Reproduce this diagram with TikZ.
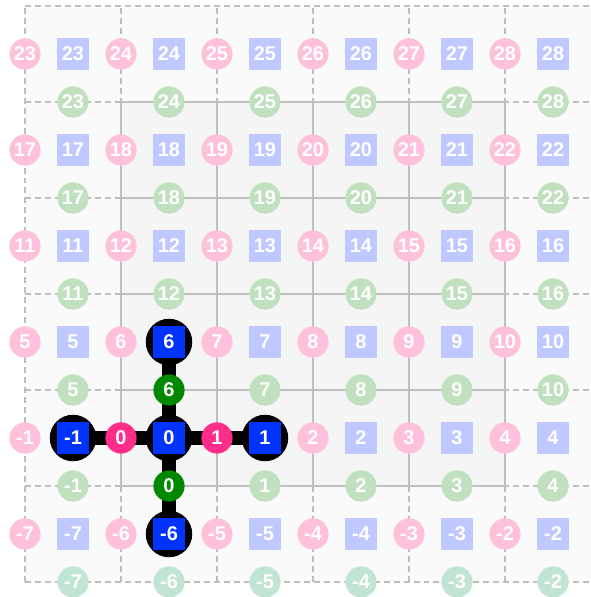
\documentclass[tikz,border=0pt]{standalone}
\usepackage{fontspec}
\setmainfont{Liberation Sans}

\definecolor{upink}{RGB}{255,45,138}
\definecolor{cblue}{RGB}{0,51,255}
\definecolor{vgreen}{RGB}{0,136,0}
\definecolor{upinkfade}{RGB}{255,192,220}
\definecolor{cbluefade}{RGB}{192,201,255}
\definecolor{vgreenfade}{RGB}{192,224,192}
\definecolor{vtealfade}{RGB}{194,228,210}
\definecolor{gridgray}{RGB}{190,190,190}

\begin{document}
\begin{tikzpicture}[
    x=1in, y=1in,
    gridline/.style={draw=gridgray, line width=1pt},
    lbl/.style={text=white, inner sep=0pt, font=\bfseries\fontsize{15pt}{16pt}\selectfont},
    upt/.style={lbl, circle, fill=upinkfade, minimum size=23.5pt},
    vpt/.style={lbl, circle, fill=vgreenfade, minimum size=23.5pt},
    cpt/.style={lbl, rectangle, fill=cbluefade, minimum size=23.8pt},
    halo/.style={circle, fill=black, minimum size=35pt, inner sep=0pt},
    stencil/.style={line width=10pt, black},
    % bottom row of v points
    vrow-1/.style={fill=vtealfade},
    % stencil of cell 0
    hc0/.style={fill=cblue}, hc-1/.style={fill=cblue}, hc1/.style={fill=cblue},
    hc6/.style={fill=cblue}, hc-6/.style={fill=cblue},
    hu0/.style={fill=upink}, hu1/.style={fill=upink},
    hv0/.style={fill=vgreen}, hv6/.style={fill=vgreen}
  ]
    \useasboundingbox (-1.2604,-1.15625) rectangle (4.8958,5.0625);

    % --- cells
    \fill[black!2] (-1,-1) rectangle (5,5);
    \draw[gridline, dash pattern=on 4.5pt off 3pt, step=1in] (-1,-1) grid (5,5);
    \fill[black!4] (0,0) rectangle (4,4);
    \draw[gridline, step=1in] (0,0) grid (4,4);

    % --- stencil behind the points
    \foreach \n/\x/\y in {-1/-0.5/0.5, 0/0.5/0.5, 1/1.5/0.5, 6/0.5/1.5, -6/0.5/-0.5}
      \node[halo] (h\n) at (\x,\y) {};
    \draw[stencil] (h-1.center) -- (h1.center);
    \draw[stencil] (h6.center) -- (h-6.center);

    % --- u, v and cell points
    \foreach \i in {-1,...,4}
      \foreach \j in {-1,...,4} {
        \pgfmathtruncatemacro{\n}{6*\j+\i}
        \node[cpt, hc\n/.try] (c\n) at (\i+0.5,\j+0.5) {\n};
        \node[upt, hu\n/.try] (u\n) at (\i,\j+0.5) {\n};
        \node[vpt, vrow\j/.try, hv\n/.try] (v\n) at (\i+0.5,\j) {\n};
      }
  \end{tikzpicture}
\end{document}
